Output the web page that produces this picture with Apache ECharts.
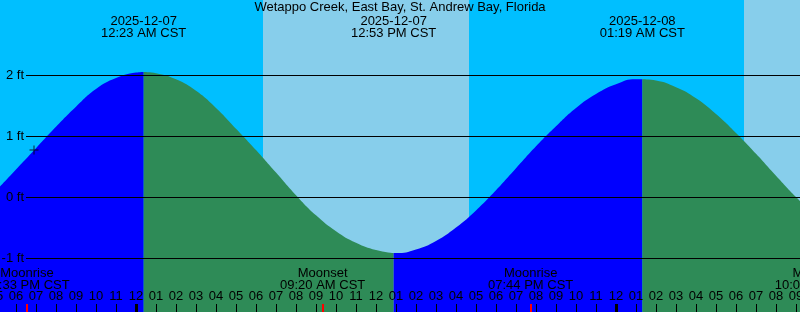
<!DOCTYPE html>
<html><head><meta charset="utf-8">
<script src="https://cdn.jsdelivr.net/npm/echarts@6/dist/echarts.min.js"></script>
<style>html,body{margin:0;padding:0;background:#00BFFF;overflow:hidden;width:800px;height:312px}#c{position:absolute;left:-100px;top:0;width:1000px;height:312px}</style>
</head><body><div id="c"></div>
<script>
// All times are hours relative to 2025-12-07 00:00 CST
const titleText = 'Wetappo Creek, East Bay, St. Andrew Bay, Florida';

// tide heights (ft)
const rise1Times = [-7, -6, -5, -4, -3, -2, -1, 0, 0.383];
const rise1Heights = [0.10, 0.45, 0.80, 1.15, 1.48, 1.77, 1.95, 2.04, 2.05];
const fall1Times = [0.383, 1, 2, 3, 4, 5, 6, 7, 8, 9, 10, 11, 12, 12.883];
const fall1Heights = [2.05, 2.03, 1.93, 1.74, 1.46, 1.12, 0.77, 0.40, 0.03, -0.30, -0.56, -0.75, -0.87, -0.92];
const rise2Times = [12.883, 13, 14, 15, 16, 17, 18, 19, 20, 21, 22, 23, 24, 25, 25.317];
const rise2Heights = [-0.92, -0.92, -0.86, -0.72, -0.50, -0.22, 0.11, 0.47, 0.83, 1.16, 1.46, 1.69, 1.85, 1.93, 1.93];
const fall2Times = [25.317, 26, 27, 28, 29, 30, 31, 32, 33, 34];
const fall2Heights = [1.93, 1.91, 1.80, 1.62, 1.36, 1.05, 0.71, 0.35, 0.00, -0.32];

// current-time marker
const nowPoint = [-5.1, 0.77];

// high / low tide labels
const tideEventTimes = [0.383, 12.883, 25.317];
const tideEventDates = ['2025-12-07', '2025-12-07', '2025-12-08'];
const tideEventClock = ['12:23 AM CST', '12:53 PM CST', '01:19 AM CST'];

// day (sun up) periods
const dayStarts = [6.35, 30.4];
const dayEnds = [16.65, 40];

// moon events
const moonTimes = [-5.45, 9.333, 19.733, 34.067];
const moonNames = ['Moonrise', 'Moonset', 'Moonrise', 'Moonset'];
const moonClock = ['06:33 PM CST', '09:20 AM CST', '07:44 PM CST', '10:04 AM CST'];

// hour ticks / labels
const hourTicks = [-12,-11,-10,-9,-8,-7,-6,-5,-4,-3,-2,-1,0,1,2,3,4,5,6,7,8,9,10,11,12,13,14,15,16,17,18,19,20,21,22,23,24,25,26,27,28,29,30,31,32,33,34,35,36,37,38];
const midnightTicks = [0, 24];

const FONT = "'Liberation Sans', Arial, sans-serif";
const zip = (a, b) => a.map((v, i) => [v, b[i]]);
const nearestIdx = (arr, v) => { let bi = 0; arr.forEach((x, i) => { if (Math.abs(x - v) < Math.abs(arr[bi] - v)) bi = i; }); return bi; };

// container is 1000px wide, shifted 100px left of the 800px view
const X_MIN = -11.8, X_MAX = 38.2;
const fullGrid = () => ({ left: 0, right: 0, top: 0, bottom: 0, containLabel: false, outerBoundsMode: 'none' });
const wideX = { type: 'value', min: X_MIN, max: X_MAX, splitLine: { show: false }, axisLine: { show: false } };
const hiddenY = (gi) => ({ type: 'value', gridIndex: gi, min: 0, max: 1, show: false });

const chart = echarts.init(document.getElementById('c'), null, { renderer: 'canvas' });

const areaSeries = (times, heights, color) => ({
  type: 'line', xAxisIndex: 0, yAxisIndex: 0, data: zip(times, heights),
  smooth: true, symbol: 'none', clip: false, z: 2,
  lineStyle: { width: 0, color: color },
  areaStyle: { color: color, opacity: 1, origin: -3 },
  itemStyle: { color: color }, silent: true
});

chart.setOption({
  animation: false,
  backgroundColor: '#00BFFF',
  textStyle: { fontFamily: FONT },
  title: {
    text: titleText, left: 'center', top: 1, padding: 0,
    textStyle: { fontSize: 13, fontWeight: 'normal', color: '#000', fontFamily: FONT, lineHeight: 12 }
  },
  grid: [
    { left: 0, right: 0, top: 75, bottom: 54, containLabel: false, outerBoundsMode: 'none' },      // tide area
    { left: 126, right: 100, top: 75, bottom: 54, containLabel: false, outerBoundsMode: 'none' },  // y labels + gridlines
    fullGrid(), fullGrid(), fullGrid()
  ],
  xAxis: [
    { type: 'value', gridIndex: 0, min: X_MIN, max: X_MAX, show: false },
    { type: 'value', gridIndex: 1, min: 0, max: 1, show: false },
    Object.assign({}, wideX, {
      gridIndex: 2, position: 'bottom', z: 10,
      axisTick: { show: true, inside: true, length: 8, customValues: hourTicks, lineStyle: { color: '#000', width: 1 } },
      axisLabel: {
        show: true, inside: true, margin: 9, customValues: hourTicks, color: '#000', fontSize: 13, fontFamily: FONT,
        formatter: v => { let h = ((Math.round(v) % 12) + 12) % 12; if (h === 0) h = 12; return String(h).padStart(2, '0'); }
      }
    }),
    Object.assign({}, wideX, {
      gridIndex: 2, position: 'top', z: 10,
      axisTick: { show: false },
      axisLabel: {
        show: true, inside: true, margin: 15, customValues: tideEventTimes, color: '#000', fontSize: 13, lineHeight: 12, fontFamily: FONT,
        formatter: v => { const i = nearestIdx(tideEventTimes, v); return tideEventDates[i] + '\n' + tideEventClock[i]; }
      }
    }),
    Object.assign({}, wideX, {
      gridIndex: 3, position: 'bottom', z: 11,
      axisTick: { show: true, inside: true, length: 8, customValues: midnightTicks, lineStyle: { color: '#000', width: 3 } },
      axisLabel: { show: false }
    }),
    Object.assign({}, wideX, {
      gridIndex: 4, position: 'bottom', z: 11,
      axisTick: { show: true, inside: true, length: 8, customValues: moonTimes, lineStyle: { color: '#ff0000', width: 2 } },
      axisLabel: {
        show: true, inside: true, margin: 21, customValues: moonTimes, color: '#000', fontSize: 13, lineHeight: 12, fontFamily: FONT,
        formatter: v => { const i = nearestIdx(moonTimes, v); return moonNames[i] + '\n' + moonClock[i]; }
      }
    })
  ],
  yAxis: [
    { type: 'value', gridIndex: 0, min: -1, max: 2, interval: 1, show: false },
    {
      type: 'value', gridIndex: 1, min: -1, max: 2, interval: 1, z: 10,
      axisLine: { show: false }, axisTick: { show: false },
      axisLabel: { show: true, margin: 2, color: '#000', fontSize: 13, fontFamily: FONT, formatter: '{value} ft' },
      splitLine: { show: true, lineStyle: { color: '#000', width: 1 } }
    },
    hiddenY(2), hiddenY(3), hiddenY(4)
  ],
  series: [
    {
      type: 'line', xAxisIndex: 2, yAxisIndex: 2, data: [], z: 0, silent: true,
      markArea: {
        silent: true,
        itemStyle: { color: '#87CEEB', opacity: 1 },
        data: dayStarts.map((s, i) => [{ xAxis: s }, { xAxis: dayEnds[i] }])
      }
    },
    areaSeries(rise1Times, rise1Heights, '#0000FF'),
    areaSeries(fall1Times, fall1Heights, '#2E8B57'),
    areaSeries(rise2Times, rise2Heights, '#0000FF'),
    areaSeries(fall2Times, fall2Heights, '#2E8B57'),
    {
      type: 'scatter', xAxisIndex: 0, yAxisIndex: 0, data: [nowPoint], z: 5, silent: true,
      symbol: 'path://M0,4L9,4L9,5L0,5Z M4,0L5,0L5,9L4,9Z', symbolSize: 9,
      itemStyle: { color: '#000' }
    }
  ]
});
</script></body></html>
